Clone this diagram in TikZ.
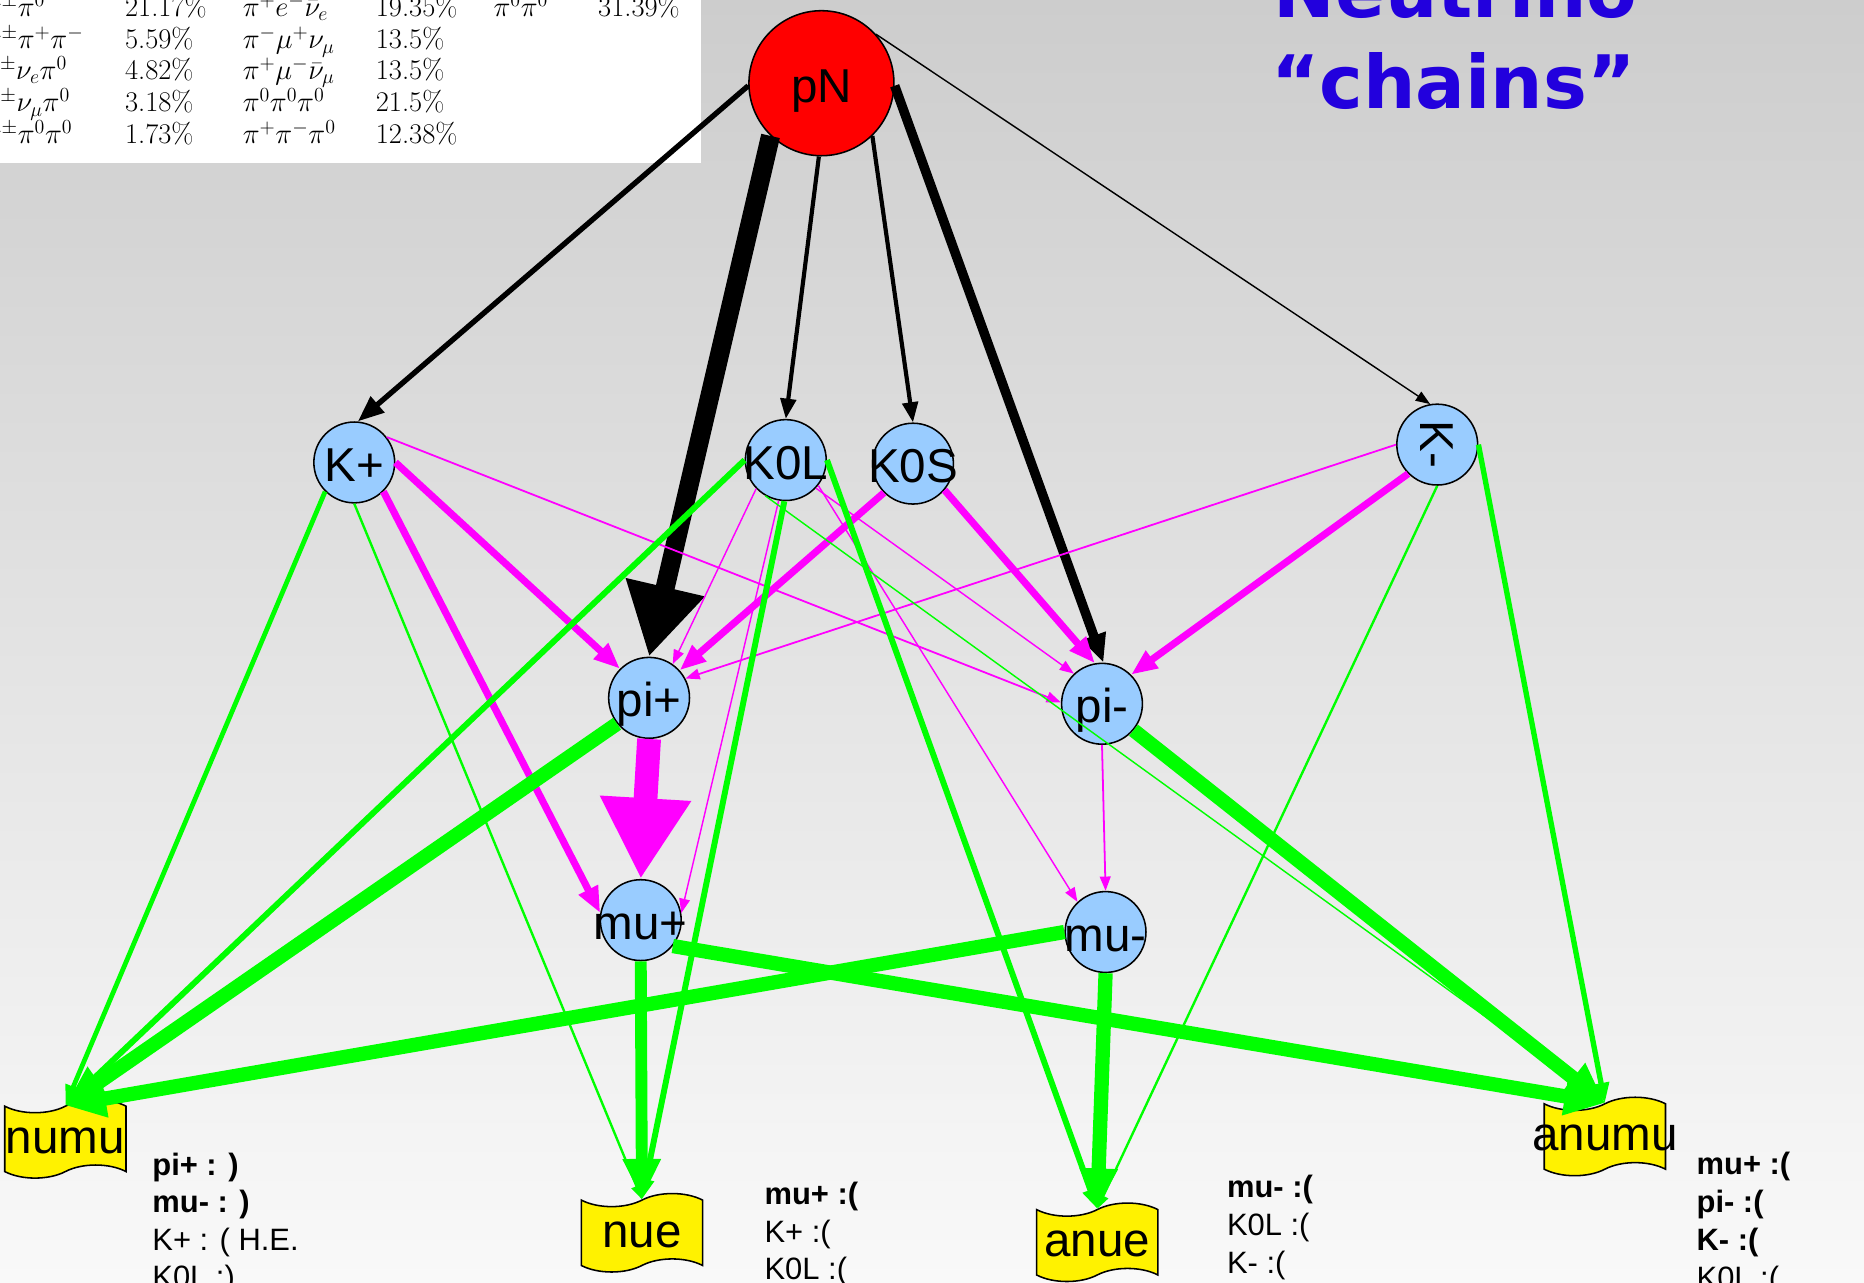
\RequirePackage{fix-cm}
\documentclass[tikz,border=0pt]{standalone}
\usepackage{fontspec}
\usepackage{graphicx}
\newfontfamily\arial{Liberation Sans}
\newfontfamily\titlefont{DejaVu Sans}
\usetikzlibrary{arrows.meta,shapes.symbols}
\definecolor{bgtop}{RGB}{205,205,205}
\definecolor{bgbot}{RGB}{249,249,249}
\definecolor{nodeblue}{RGB}{153,204,255}
\definecolor{titleblue}{RGB}{34,0,221}
\definecolor{mag}{RGB}{255,0,255}
\definecolor{grn}{RGB}{0,255,0}
\newcommand{\lbl}[1]{\raisebox{-16pt}[0pt][0pt]{\makebox[0pt]{#1}}}
\newcommand{\tlbl}[1]{\raisebox{-12pt}[0pt][0pt]{\makebox[0pt]{#1}}}
\begin{document}
\begin{tikzpicture}[x=1pt,y=-1pt,
  part/.style={circle, draw=black, line width=1.3pt, fill=nodeblue, minimum size=68pt, inner sep=0pt, font=\arial\fontsize{40}{44}\selectfont},
  srcnode/.style={circle, draw=black, line width=1.3pt, fill=red, minimum size=122pt, inner sep=0pt, font=\arial\fontsize{40}{44}\selectfont},
  nu/.style={tape, draw=black, line width=1.3pt, fill=yellow, minimum width=102pt, minimum height=66pt, tape bend height=11pt, inner sep=0pt, font=\arial\fontsize{40}{44}\selectfont},
  tabtxt/.style={anchor=base west, inner sep=0pt, font=\fontsize{24}{28}\selectfont},
  note/.style={anchor=base west, inner sep=0pt, font=\arial\fontsize{26}{30}\selectfont},
  notebf/.style={anchor=base west, inner sep=0pt, font=\arial\bfseries\fontsize{26}{30}\selectfont},
  ttl/.style={anchor=base west, inner sep=0pt, text=titleblue, font=\titlefont\bfseries\fontsize{62}{70}\selectfont},
  blk/.style={draw=black},
  mg/.style={draw=mag},
  gr/.style={draw=grn},
  tipxs/.style={-{Triangle[length=12pt,width=9pt]}},
  tips/.style={-{Triangle[length=17pt,width=13pt]}},
  tipm/.style={-{Triangle[length=22pt,width=17pt]}},
  tipl/.style={-{Triangle[length=34pt,width=30pt]}}
]
\useasboundingbox (0,0) rectangle (1568,1079);
\clip (0,0) rectangle (1568,1079);
\shade[top color=bgtop, bottom color=bgbot] (0,0) rectangle (1568,1079);

% table
\fill[white] (0,0) rectangle (590,137);
\node[tabtxt] (r1a) at (-13,14) {$\pi^\pm\pi^0$};
\node[tabtxt] (r2a) at (-13,41) {$\pi^\pm\pi^+\pi^-$};
\node[tabtxt] (r3a) at (-11,67) {$e^\pm\nu_e\pi^0$};
\node[tabtxt] (r4a) at (-14,94) {$\mu^\pm\nu_\mu\pi^0$};
\node[tabtxt] (r5a) at (-13,121) {$\pi^\pm\pi^0\pi^0$};
\node[tabtxt] (r1b) at (105,14) {21.17\%};
\node[tabtxt] (r2b) at (105,41) {5.59\%};
\node[tabtxt] (r3b) at (105,67) {4.82\%};
\node[tabtxt] (r4b) at (105,94) {3.18\%};
\node[tabtxt] (r5b) at (105,121) {1.73\%};
\node[tabtxt] (r1c) at (204,14) {$\pi^+e^-\bar\nu_e$};
\node[tabtxt] (r2c) at (204,41) {$\pi^-\mu^+\nu_\mu$};
\node[tabtxt] (r3c) at (204,67) {$\pi^+\mu^-\bar\nu_\mu$};
\node[tabtxt] (r4c) at (204,94) {$\pi^0\pi^0\pi^0$};
\node[tabtxt] (r5c) at (204,121) {$\pi^+\pi^-\pi^0$};
\node[tabtxt] (r1d) at (316,14) {19.35\%};
\node[tabtxt] (r2d) at (316,41) {13.5\%};
\node[tabtxt] (r3d) at (316,67) {13.5\%};
\node[tabtxt] (r4d) at (316,94) {21.5\%};
\node[tabtxt] (r5d) at (316,121) {12.38\%};
\node[tabtxt] (r1e) at (415,14) {$\pi^0\pi^0$};
\node[tabtxt] (r1f) at (503,14) {31.39\%};

% title
\node[ttl] (title1) at (1071,15) {Neutrino};
\node[ttl] (title2) at (1069,91) {“chains”};

% nodes
\node[srcnode] (pN) at (691,70) {\lbl{pN}};
\node[part] (Kp) at (298,389) {\lbl{K+}};
\node[part] (K0L) at (661,387) {\lbl{K0L}};
\node[part] (K0S) at (768,390) {\lbl{K0S}};
\node[part] (Km) at (1209,374) {\rotatebox[origin=c]{-90}{K-}};
\node[part] (pip) at (546,587) {\lbl{pi+}};
\node[part] (pim) at (927,592) {\lbl{pi-}};
\node[part] (mup) at (539,774) {\lbl{mu+}};
\node[part] (mum) at (930,784) {\lbl{mu-}};
\node[nu] (numu) at (55,958) {\tlbl{numu}};
\node[nu] (nue) at (540,1037) {\tlbl{nue}};
\node[nu] (anue) at (923,1045) {\tlbl{anue}};
\node[nu] (anumu) at (1350,956) {\tlbl{anumu}};

% black edges
\draw[blk, line width=4.5pt, tipm] (pN.182) -- (Kp.85);
\draw[blk, line width=16pt, -{Triangle[length=60pt,width=64pt]}] (pN.226) -- (pip.90);
\draw[blk, line width=3.5pt, tips] (pN.268) -- (K0L.90);
\draw[blk, line width=3.5pt, tips] (pN.314) -- (K0S.90);
\draw[blk, line width=8pt, -{Triangle[length=24pt,width=20pt]}] (pN.358) -- (pim.88);
\draw[blk, line width=1.2pt, tipxs] (pN.42) -- (Km.100);

% magenta edges
\draw[mg, line width=6pt, tipm] (Kp.0) -- (pip.135);
\draw[mg, line width=6pt, tipm] (Kp.-45) -- (mup.170);
\draw[mg, line width=1.5pt, tipxs] (Kp.38) -- (pim.178);
\draw[mg, line width=1.2pt, tipxs] (K0L.224) -- (pip.55);
\draw[mg, line width=1.2pt, tipxs] (K0L.260) -- (mup.10);
\draw[mg, line width=1.2pt, tipxs] (K0L.317) -- (pim.133);
\draw[mg, line width=1.2pt, tipxs] (K0L.322) -- (mum.133);
\draw[mg, line width=6pt, tipm] (K0S.225) -- (pip.42);
\draw[mg, line width=6pt, tipm] (K0S.320) -- (pim.100);
\draw[mg, line width=1.5pt, tipxs] (Km.180) -- (pip.28);
\draw[mg, line width=6pt, tipm] (Km.225) -- (pim.45);
\draw[mg, line width=20pt, -{Triangle[length=68pt,width=72pt]}] (pip.270) -- (mup.90);
\draw[mg, line width=1.5pt, tipxs] (pim.270) -- (mum.90);

% green edges
\draw[gr, line width=4pt, tips] (Kp.225) -- (numu.north);
\draw[gr, line width=2pt, tipxs] (Kp.270) -- (nue.north);
\draw[gr, line width=5pt, tips] (K0L.180) -- (numu.north);
\draw[gr, line width=5pt, tips] (K0L.268) -- (nue.north);
\draw[gr, line width=5pt, tips] (K0L.0) -- (anue.north);
\draw[gr, line width=1.2pt, tipxs] (K0L.240) -- (anumu.north);
\draw[gr, line width=2pt, tipxs] (Km.270) -- (anue.north);
\draw[gr, line width=4.5pt, tips] (Km.0) -- (anumu.north);
\draw[gr, line width=12pt, tipl] (pip.219) -- (numu.north);
\draw[gr, line width=12pt, tipl] (pim.-40) -- (anumu.north);
\draw[gr, line width=10pt, tipl] (mup.270) -- (nue.north);
\draw[gr, line width=12pt, tipl] (mup.-39) -- (anumu.north);
\draw[gr, line width=12pt, tipl] (mum.180) -- (numu.north);
\draw[gr, line width=12pt, tipl] (mum.270) -- (anue.north);

% notes
\node[notebf] (n1a) at (128,989) {pi+ : )};
\node[notebf] (n1b) at (128,1020) {mu- : )};
\node[note] (n1c) at (128,1052) {K+ : ( H.E.};
\node[note] (n1d) at (128,1083) {K0L :)};
\node[notebf] (n2a) at (643,1013) {mu+ :(};
\node[note] (n2b) at (643,1045) {K+ :(};
\node[note] (n2c) at (643,1076) {K0L :(};
\node[notebf] (n3a) at (1032,1007) {mu- :(};
\node[note] (n3b) at (1032,1039) {K0L :(};
\node[note] (n3c) at (1032,1071) {K- :(};
\node[notebf] (n4a) at (1427,988) {mu+ :(};
\node[notebf] (n4b) at (1427,1020) {pi- :(};
\node[notebf] (n4c) at (1427,1052) {K- :(};
\node[note] (n4d) at (1427,1084) {K0L :(};
\end{tikzpicture}
\end{document}
